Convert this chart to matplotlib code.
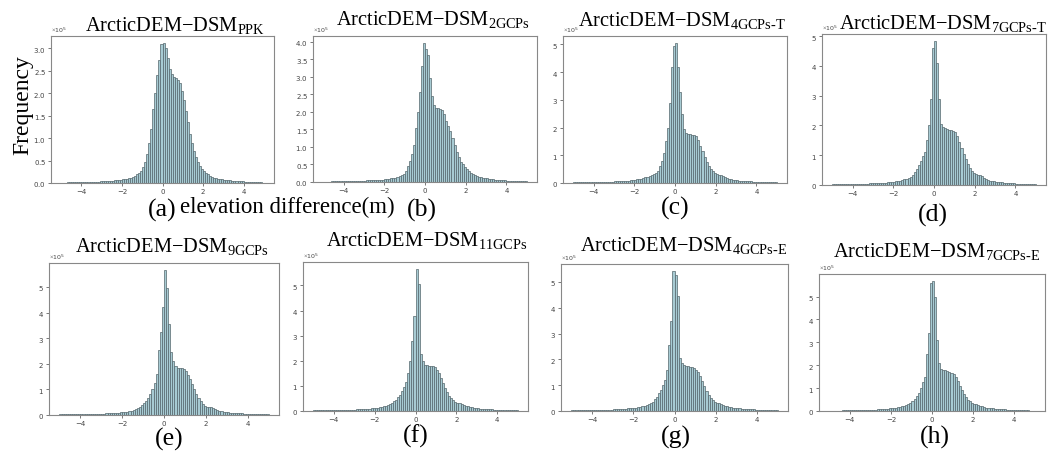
import numpy as np
import matplotlib
matplotlib.use('Agg')
import matplotlib.pyplot as plt

# bin counts (x 1e5) for 100 bins of width 0.1 from -5 to 5
counts_ppk = [
    0.01, 0.01, 0.01, 0.015, 0.015, 0.015, 0.02, 0.02, 0.02, 0.02,
    0.02, 0.02, 0.025, 0.025, 0.025, 0.03, 0.03, 0.03, 0.03, 0.035,
    0.04, 0.04, 0.045, 0.05, 0.05, 0.055, 0.06, 0.065, 0.07, 0.075,
    0.08, 0.09, 0.10, 0.11, 0.12, 0.14, 0.16, 0.19, 0.22, 0.27,
    0.35, 0.47, 0.65, 0.9, 1.2, 1.65, 2.0, 2.4, 2.75, 3.1,
    3.12, 3.0, 2.78, 2.55, 2.42, 2.36, 2.33, 2.3, 2.22, 2.05,
    1.85, 1.6, 1.35, 1.1, 0.9, 0.72, 0.58, 0.47, 0.38, 0.31,
    0.26, 0.22, 0.19, 0.16, 0.14, 0.12, 0.11, 0.1, 0.09, 0.08,
    0.075, 0.07, 0.065, 0.06, 0.055, 0.05, 0.045, 0.04, 0.04, 0.035,
    0.03, 0.03, 0.025, 0.025, 0.02, 0.02, 0.02, 0.015, 0.015, 0.01]

counts_2gcp = [
    0.01, 0.01, 0.01, 0.01, 0.015, 0.015, 0.015, 0.02, 0.02, 0.02,
    0.02, 0.025, 0.025, 0.025, 0.03, 0.03, 0.03, 0.035, 0.035, 0.04,
    0.04, 0.045, 0.045, 0.05, 0.05, 0.055, 0.06, 0.06, 0.065, 0.07,
    0.075, 0.08, 0.09, 0.1, 0.11, 0.12, 0.14, 0.17, 0.2, 0.24,
    0.3, 0.45, 0.6, 0.8, 1.05, 1.55, 2.0, 2.55, 3.3, 3.96,
    3.8, 3.62, 2.95, 2.45, 2.2, 2.12, 2.1, 2.08, 2.05, 1.95,
    1.75, 1.6, 1.45, 1.25, 1.05, 0.85, 0.7, 0.58, 0.5, 0.44,
    0.38, 0.32, 0.27, 0.23, 0.2, 0.17, 0.15, 0.13, 0.12, 0.11,
    0.1, 0.09, 0.08, 0.075, 0.07, 0.065, 0.06, 0.055, 0.05, 0.045,
    0.04, 0.04, 0.035, 0.03, 0.03, 0.025, 0.025, 0.02, 0.02, 0.015]

counts_4gcp_t = [
    0.02, 0.02, 0.02, 0.02, 0.02, 0.025, 0.025, 0.025, 0.025, 0.03,
    0.03, 0.03, 0.03, 0.03, 0.035, 0.045, 0.045, 0.05, 0.05, 0.05,
    0.055, 0.06, 0.06, 0.065, 0.07, 0.075, 0.08, 0.09, 0.1, 0.11,
    0.12, 0.13, 0.14, 0.16, 0.18, 0.2, 0.22, 0.25, 0.28, 0.31,
    0.36, 0.45, 0.6, 0.8, 1.1, 1.5, 2.0, 2.9, 4.2, 4.95,
    5.05, 4.2, 3.3, 2.5, 1.95, 1.82, 1.78, 1.76, 1.74, 1.72,
    1.68, 1.55, 1.35, 1.15, 0.95, 0.75, 0.6, 0.5, 0.42, 0.37,
    0.33, 0.3, 0.28, 0.25, 0.21, 0.18, 0.16, 0.14, 0.12, 0.11,
    0.1, 0.09, 0.085, 0.08, 0.075, 0.07, 0.06, 0.055, 0.05, 0.045,
    0.04, 0.04, 0.035, 0.03, 0.03, 0.025, 0.025, 0.02, 0.02, 0.02]

counts_7gcp_t = [
    0.02, 0.02, 0.02, 0.02, 0.02, 0.02, 0.025, 0.025, 0.025, 0.025,
    0.03, 0.03, 0.03, 0.03, 0.035, 0.05, 0.05, 0.05, 0.055, 0.055,
    0.06, 0.06, 0.065, 0.07, 0.07, 0.075, 0.08, 0.09, 0.095, 0.1,
    0.11, 0.12, 0.13, 0.15, 0.17, 0.19, 0.21, 0.24, 0.28, 0.34,
    0.43, 0.55, 0.68, 0.82, 0.98, 1.1, 1.5, 2.0, 2.9, 4.6,
    4.83, 4.1, 2.9, 2.05, 1.95, 1.9, 1.88, 1.85, 1.85, 1.82,
    1.78, 1.65, 1.45, 1.25, 1.05, 0.88, 0.72, 0.58, 0.47, 0.4,
    0.36, 0.33, 0.33, 0.3, 0.25, 0.2, 0.17, 0.15, 0.13, 0.12,
    0.11, 0.1, 0.09, 0.085, 0.08, 0.075, 0.07, 0.065, 0.06, 0.055,
    0.05, 0.045, 0.04, 0.04, 0.035, 0.03, 0.03, 0.025, 0.02, 0.02]

counts_9gcp = [
    0.02, 0.02, 0.02, 0.02, 0.02, 0.025, 0.025, 0.025, 0.025, 0.025,
    0.03, 0.03, 0.03, 0.03, 0.03, 0.035, 0.035, 0.04, 0.045, 0.05,
    0.05, 0.055, 0.06, 0.065, 0.07, 0.075, 0.085, 0.09, 0.095, 0.1,
    0.11, 0.12, 0.13, 0.15, 0.17, 0.2, 0.23, 0.27, 0.32, 0.38,
    0.45, 0.55, 0.68, 0.82, 1.0, 1.25, 1.6, 2.55, 3.25, 4.2,
    5.65, 4.95, 3.55, 2.45, 2.1, 1.9, 1.85, 1.83, 1.82, 1.78,
    1.7, 1.58, 1.4, 1.2, 1.0, 0.82, 0.66, 0.53, 0.44, 0.37,
    0.33, 0.3, 0.3, 0.27, 0.23, 0.19, 0.16, 0.14, 0.12, 0.11,
    0.1, 0.09, 0.085, 0.08, 0.075, 0.07, 0.065, 0.06, 0.055, 0.05,
    0.045, 0.04, 0.04, 0.035, 0.03, 0.03, 0.025, 0.02, 0.02, 0.02]

counts_11gcp = [
    0.02, 0.02, 0.02, 0.02, 0.02, 0.02, 0.02, 0.02, 0.02, 0.02,
    0.02, 0.02, 0.02, 0.02, 0.02, 0.04, 0.045, 0.045, 0.05, 0.05,
    0.055, 0.06, 0.06, 0.065, 0.07, 0.075, 0.08, 0.09, 0.1, 0.11,
    0.12, 0.13, 0.14, 0.16, 0.18, 0.2, 0.23, 0.27, 0.32, 0.38,
    0.45, 0.55, 0.65, 0.8, 0.95, 1.15, 1.5, 2.0, 2.8, 3.8,
    5.65, 5.05, 2.25, 2.0, 1.85, 1.82, 1.8, 1.8, 1.78, 1.75,
    1.65, 1.5, 1.3, 1.1, 0.92, 0.76, 0.6, 0.5, 0.42, 0.36,
    0.33, 0.31, 0.28, 0.25, 0.21, 0.18, 0.16, 0.14, 0.12, 0.11,
    0.1, 0.09, 0.085, 0.08, 0.075, 0.07, 0.065, 0.06, 0.05, 0.045,
    0.04, 0.04, 0.035, 0.035, 0.03, 0.03, 0.02, 0.02, 0.02, 0.02]

counts_4gcp_e = [
    0.02, 0.02, 0.02, 0.02, 0.02, 0.02, 0.025, 0.025, 0.025, 0.025,
    0.025, 0.03, 0.03, 0.03, 0.035, 0.045, 0.05, 0.05, 0.05, 0.055,
    0.06, 0.06, 0.065, 0.07, 0.075, 0.08, 0.09, 0.1, 0.1, 0.11,
    0.12, 0.13, 0.14, 0.16, 0.18, 0.2, 0.23, 0.26, 0.3, 0.36,
    0.45, 0.55, 0.68, 0.82, 1.0, 1.2, 1.6, 2.55, 3.5, 5.42,
    5.25, 4.45, 2.05, 1.85, 1.78, 1.75, 1.74, 1.72, 1.7, 1.68,
    1.6, 1.5, 1.35, 1.15, 0.95, 0.78, 0.63, 0.5, 0.42, 0.36,
    0.32, 0.3, 0.28, 0.25, 0.21, 0.18, 0.16, 0.14, 0.13, 0.12,
    0.11, 0.1, 0.09, 0.085, 0.08, 0.075, 0.07, 0.065, 0.06, 0.055,
    0.05, 0.045, 0.04, 0.035, 0.03, 0.03, 0.025, 0.02, 0.02, 0.02]

counts_7gcp_e = [
    0.02, 0.02, 0.02, 0.02, 0.02, 0.02, 0.025, 0.025, 0.025, 0.025,
    0.025, 0.03, 0.03, 0.03, 0.035, 0.045, 0.05, 0.05, 0.05, 0.055,
    0.06, 0.06, 0.065, 0.07, 0.075, 0.08, 0.09, 0.095, 0.1, 0.11,
    0.12, 0.13, 0.14, 0.16, 0.18, 0.2, 0.23, 0.26, 0.3, 0.35,
    0.42, 0.52, 0.65, 0.8, 1.0, 1.25, 1.5, 2.5, 3.4, 5.6,
    5.7, 5.0, 3.1, 2.1, 1.85, 1.8, 1.78, 1.75, 1.72, 1.68,
    1.6, 1.48, 1.3, 1.1, 0.92, 0.75, 0.6, 0.5, 0.42, 0.36,
    0.32, 0.29, 0.27, 0.24, 0.2, 0.17, 0.15, 0.13, 0.12, 0.11,
    0.1, 0.09, 0.085, 0.08, 0.075, 0.07, 0.065, 0.06, 0.05, 0.045,
    0.04, 0.04, 0.035, 0.03, 0.03, 0.025, 0.025, 0.02, 0.02, 0.02]

subscripts = [r'\mathrm{PPK}', r'\mathrm{2GCPs}', r'\mathrm{4GCPs}\text{-}\mathrm{T}',
              r'\mathrm{7GCPs}\text{-}\mathrm{T}', r'\mathrm{9GCPs}', r'\mathrm{11GCPs}',
              r'\mathrm{4GCPs}\text{-}\mathrm{E}', r'\mathrm{7GCPs}\text{-}\mathrm{E}']
panel_labels = ['(a)', '(b)', '(c)', '(d)', '(e)', '(f)', '(g)', '(h)']
all_counts = [counts_ppk, counts_2gcp, counts_4gcp_t, counts_7gcp_t,
              counts_9gcp, counts_11gcp, counts_4gcp_e, counts_7gcp_e]

bin_edges = np.linspace(-5, 5, 101)

W, H = 1054, 452
SERIF = 'Liberation Serif'
plt.rcParams['mathtext.fontset'] = 'custom'
plt.rcParams['mathtext.rm'] = SERIF

# layout in pixels: axes box (left, top, right, bottom), title (x, baseline), label (x, y)
boxes = [(51, 37, 274, 184), (313, 37, 537, 183), (563, 37, 787, 184), (822, 35, 1046, 186),
         (49, 264, 279, 416), (303, 263, 528, 412), (561, 265, 788, 412), (819, 275, 1045, 412)]
title_pos = [(175, 32), (433, 26), (682, 27), (943, 30),
             (172, 253), (427, 247), (684, 252), (937, 258)]
label_pos = [(162, 210), (422, 210), (675, 208), (933, 215),
             (169, 439), (416, 436), (676, 437), (935, 437)]

fig = plt.figure(figsize=(W / 100, H / 100), dpi=100)

for i in range(8):
    l, t, r, b = boxes[i]
    ax = fig.add_axes([l / W, 1 - b / H, (r - l) / W, (b - t) / H])
    heights = np.array(all_counts[i]) * 1e5
    ax.bar(bin_edges[:-1], heights, width=0.1, align='edge',
           facecolor='#a7cbd3', edgecolor='#55666c', linewidth=0.5)
    ax.set_xticks([-4, -2, 0, 2, 4])
    ax.ticklabel_format(axis='y', style='sci', scilimits=(0, 0), useMathText=True)
    ax.yaxis.get_offset_text().set_fontsize(4.5)
    ax.yaxis.get_offset_text().set_color('#444444')
    ax.tick_params(labelsize=5, length=2, width=0.5, pad=1.5, colors='#444444')
    for s in ax.spines.values():
        s.set_color('#888888')
        s.set_linewidth(0.8)

    tx, ty = title_pos[i]
    fig.text(tx / W, 1 - ty / H, 'ArcticDEM\u2212DSM$_{' + subscripts[i] + '}$',
             ha='center', va='baseline', fontsize=14.7, family=SERIF)
    lx, ly = label_pos[i]
    fig.text(lx / W, 1 - ly / H, panel_labels[i], ha='center', va='center',
             fontsize=18.5, family=SERIF)

fig.text(180 / W, 1 - 213 / H, 'elevation difference(m)', ha='left', va='baseline',
         fontsize=16.5, family=SERIF)
fig.text(23 / W, 1 - 105 / H, 'Frequency', rotation=90, ha='center', va='center',
         fontsize=17, family=SERIF)

fig.savefig('out.png', dpi=100)
